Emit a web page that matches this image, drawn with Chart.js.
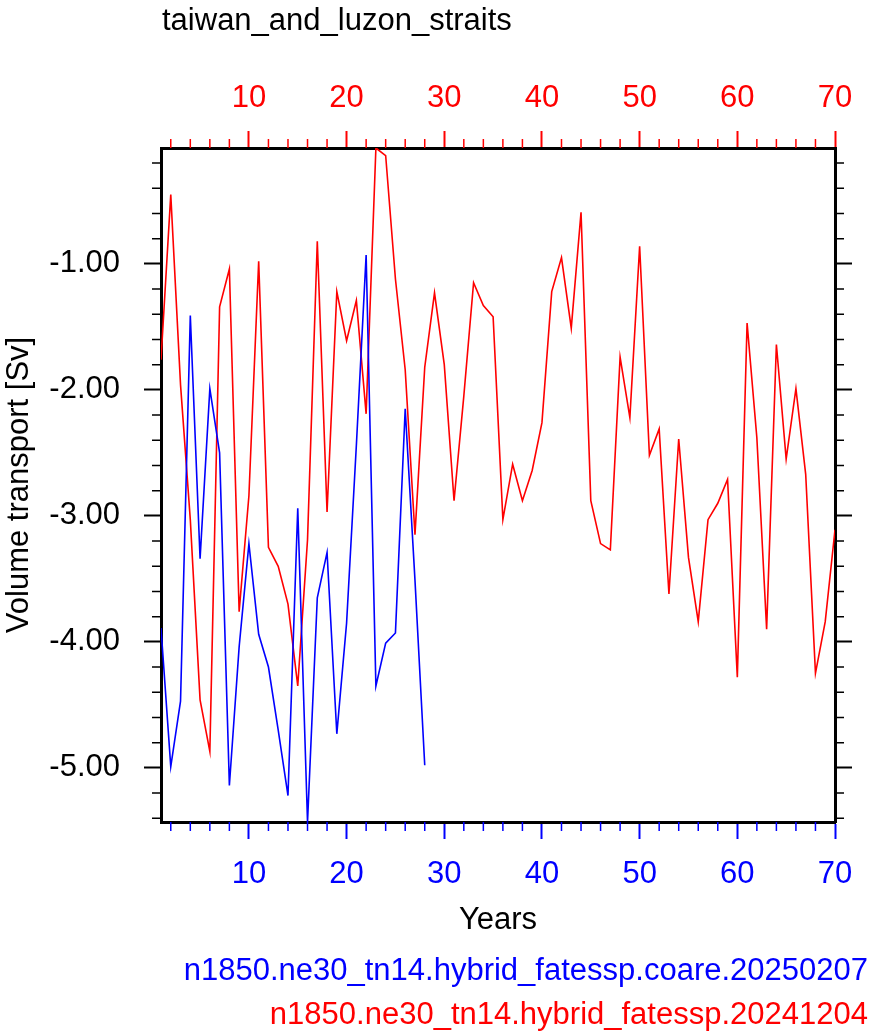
<!DOCTYPE html>
<html>
<head>
<meta charset="utf-8">
<script src="https://cdn.jsdelivr.net/npm/chart.js@4.4.1/dist/chart.umd.min.js"></script>
<style>
html, body { margin:0; padding:0; background:#fff; }
#wrap { position:relative; width:875px; height:1035px; }
#myChart { position:absolute; left:0; top:0; }
.txt { position:absolute; font-family:"Liberation Sans", Arial, sans-serif; font-size:31px; line-height:31px; white-space:nowrap; }
</style>
</head>
<body>
<div id="wrap">
<canvas id="myChart" width="875" height="1035"></canvas>
<div class="txt" id="title" style="left:162px; top:4px; color:#000">taiwan_and_luzon_straits</div>
<div class="txt" id="leg1" style="right:7px; top:954px; color:#0000ff"></div>
<div class="txt" id="leg2" style="right:7px; top:998px; color:#ff0000"></div>
</div>
<script>
// years on the x axis
var years = [1,2,3,4,5,6,7,8,9,10,11,12,13,14,15,16,17,18,19,20,
             21,22,23,24,25,26,27,28,29,30,31,32,33,34,35,36,37,38,39,40,
             41,42,43,44,45,46,47,48,49,50,51,52,53,54,55,56,57,58,59,60,
             61,62,63,64,65,66,67,68,69,70];

// n1850.ne30_tn14.hybrid_fatessp.20241204 (red, 70 years)
var run_old = [-1.76,-0.45,-1.96,-3.03,-4.46,-4.87,-1.34,-1.04,-3.76,-2.84,
               -0.98,-3.25,-3.40,-3.70,-4.35,-3.19,-0.82,-2.97,-1.22,-1.61,
               -1.29,-2.19,-0.08,-0.14,-1.12,-1.84,-3.15,-1.82,-1.23,-1.80,
               -2.88,-2.05,-1.15,-1.33,-1.42,-3.03,-2.59,-2.88,-2.64,-2.26,
               -1.22,-0.95,-1.51,-0.59,-2.88,-3.22,-3.27,-1.74,-2.22,-0.86,
               -2.52,-2.31,-3.62,-2.39,-3.33,-3.84,-3.03,-2.90,-2.71,-4.28,
               -1.47,-2.38,-3.90,-1.64,-2.55,-1.99,-2.67,-4.25,-3.84,-3.11];

// n1850.ne30_tn14.hybrid_fatessp.coare.20250207 (blue, 28 years)
var run_new = [-3.89,-4.99,-4.47,-1.41,-3.34,-1.99,-2.50,-5.14,-4.04,-3.22,
               -3.94,-4.20,-4.70,-5.22,-2.94,-5.43,-3.65,-3.29,-4.73,-3.85,
               -2.44,-0.93,-4.35,-4.01,-3.93,-2.15,-3.51,-4.98];

var label_old = 'n1850.ne30_tn14.hybrid_fatessp.20241204';
var label_new = 'n1850.ne30_tn14.hybrid_fatessp.coare.20250207';

var xMajor = [10,20,30,40,50,60,70];
var yMajor = [-1,-2,-3,-4,-5];
var xMin = 1, xMax = 70;
var yMin = -5.43, yMax = -0.08;

document.getElementById('leg1').textContent = label_new;
document.getElementById('leg2').textContent = label_old;

var FONT = { family: '"Liberation Sans", Arial, sans-serif', size: 31 };

function toPoints(vals){
    var pts = [];
    for (var i = 0; i < vals.length; i++) pts.push({x: years[i], y: vals[i]});
    return pts;
}

// minor tick marks, every 2 years / 0.2 Sv, drawn off the scales
var minorTicks = {
    id: 'minorTicks',
    afterDraw: function(chart){
        var ctx = chart.ctx, a = chart.chartArea, len = 9;
        ctx.save();
        ctx.lineWidth = 1.5;
        for (var id in chart.scales){
            var s = chart.scales[id];
            ctx.strokeStyle = s.options.grid.tickColor;
            ctx.beginPath();
            if (s.axis === 'x'){
                for (var k = Math.ceil(s.min/2); k*2 <= s.max; k++){
                    if (k % 5 === 0) continue;
                    var px = s.getPixelForValue(k*2);
                    if (s.position === 'top'){ ctx.moveTo(px, a.top); ctx.lineTo(px, a.top - len); }
                    else { ctx.moveTo(px, a.bottom); ctx.lineTo(px, a.bottom + len); }
                }
            } else {
                for (var k = Math.ceil(s.min/0.2 - 1e-6); k*0.2 <= s.max + 1e-6; k++){
                    if (k % 5 === 0) continue;
                    var py = s.getPixelForValue(k*0.2);
                    if (s.position === 'left'){ ctx.moveTo(a.left, py); ctx.lineTo(a.left - len, py); }
                    else { ctx.moveTo(a.right, py); ctx.lineTo(a.right + len, py); }
                }
            }
            ctx.stroke();
        }
        ctx.restore();
    }
};

function xAxis(pos, color, size, pad, withTitle){
    return {
        type: 'linear', position: pos, min: xMin, max: xMax,
        afterBuildTicks: function(s){ s.ticks = xMajor.map(function(v){ return {value: v}; }); },
        afterFit: function(s){ s.height = size; },
        ticks: { color: color, font: FONT, padding: pad, maxRotation: 0 },
        grid: { drawOnChartArea: false, tickLength: 17, tickColor: color, tickWidth: 2 },
        border: { display: true, color: '#000', width: 3 },
        title: { display: withTitle, text: 'Years', color: '#000', font: FONT, padding: 0 }
    };
}

function yAxis(pos, size, showLabels){
    return {
        type: 'linear', position: pos, min: yMin, max: yMax,
        afterBuildTicks: function(s){ s.ticks = yMajor.map(function(v){ return {value: v}; }); },
        afterFit: function(s){ s.width = size; },
        ticks: { display: showLabels, color: '#000', font: FONT, padding: 24,
                 callback: function(v){ return v.toFixed(2); } },
        grid: { drawOnChartArea: false, tickLength: 17, tickColor: '#000', tickWidth: 2 },
        border: { display: true, color: '#000', width: 3 },
        title: { display: showLabels, text: 'Volume transport [Sv]', color: '#000', font: FONT,
                 padding: { top: 1, bottom: 0 } }
    };
}

var ctx = document.getElementById('myChart').getContext('2d');
var myChart = new Chart(ctx, {
    type: 'line',
    data: {
        datasets: [{
            label: label_new,
            data: toPoints(run_new),
            borderColor: '#0000ff',
            borderWidth: 1.6,
            pointRadius: 0,
            tension: 0,
            xAxisID: 'x', yAxisID: 'y'
        }, {
            label: label_old,
            data: toPoints(run_old),
            borderColor: '#ff0000',
            borderWidth: 1.6,
            pointRadius: 0,
            tension: 0,
            xAxisID: 'xTop', yAxisID: 'y'
        }]
    },
    options: {
        responsive: false,
        animation: false,
        devicePixelRatio: 1,
        layout: { padding: { top: 0, left: 0, right: 0, bottom: 96 } },
        plugins: { legend: { display: false }, title: { display: false }, tooltip: { enabled: false } },
        scales: {
            x: xAxis('bottom', '#0000ff', 117, 17, true),
            xTop: xAxis('top', '#ff0000', 148, 14, false),
            y: yAxis('left', 161, true),
            yRight: yAxis('right', 40, false)
        }
    },
    plugins: [minorTicks]
});
</script>
</body>
</html>
